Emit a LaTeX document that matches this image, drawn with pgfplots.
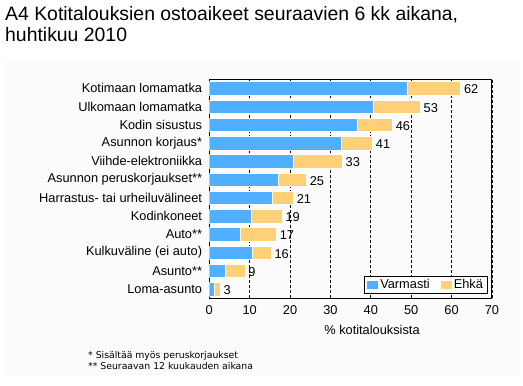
\documentclass[border=0pt]{standalone}
\usepackage{pgfplots}
\pgfplotsset{compat=1.18}
\usepackage{pgfplotstable}
\usepackage{fontspec}
\setmainfont{Liberation Sans}
\newfontfamily\footfont{DejaVu Sans}
\definecolor{cblue}{RGB}{80,175,255}
\definecolor{corange}{RGB}{255,208,120}
\definecolor{panel}{RGB}{251,251,251}

\pgfplotstableread{
y varmasti ehka total label
0 1.2 1.5 2.7 3
1 4.0 4.8 8.8 9
2 10.7 4.6 15.3 16
3 7.7 8.9 16.6 17
4 10.5 7.5 18.0 19
5 15.5 5.3 20.8 21
6 17.1 6.9 24.0 25
7 20.7 12.2 32.9 33
8 32.8 7.6 40.4 41
9 36.6 8.7 45.3 46
10 40.7 11.5 52.2 53
11 49.1 13.1 62.2 62
}\datatable

\begin{document}
\begin{tikzpicture}
\path[use as bounding box, fill=white] (0,0) rectangle (523pt,386pt);
\fill[panel] (5pt,11pt) rectangle (520pt,326pt);
\node[anchor=base west, inner sep=0pt, font=\fontsize{19.4}{22}\selectfont] at (5pt,365.3pt) {A4 Kotitalouksien ostoaikeet seuraavien 6 kk aikana,};
\node[anchor=base west, inner sep=0pt, font=\fontsize{19.4}{22}\selectfont] at (5pt,344.3pt) {huhtikuu 2010};
\begin{axis}[
  at={(209.3pt,87.7pt)}, anchor=south west,
  width=282.7pt, height=219pt, scale only axis,
  xbar stacked, bar width=13.3pt,
  xmin=0, xmax=70, ymin=-0.5, ymax=11.5,
  xtick={0,10,...,70},
  ytick={0,...,11},
  yticklabels={Loma-asunto, Asunto**, Kulkuväline (ei auto), Auto**, Kodinkoneet, Harrastus- tai urheiluvälineet, Asunnon peruskorjaukset**, Viihde-elektroniikka, Asunnon korjaus*, Kodin sisustus, Ulkomaan lomamatka, Kotimaan lomamatka},
  xmajorgrids,
  grid style={black, dash pattern=on 3pt off 2pt, line width=0.8pt},
  major tick length=0pt,
  axis line style={line width=1pt},
  tick label style={font=\fontsize{12.8}{14}\selectfont},
  /pgf/number format/assume math mode=true,
  xticklabel style={yshift=-4pt},
  yticklabel style={xshift=-3.7pt},
  legend style={at={(rel axis cs:1,0)}, anchor=south east, xshift=-4pt, yshift=4.6pt,
    draw=black, line width=1pt, font=\fontsize{12.8}{14}\selectfont,
    inner xsep=2.5pt, inner ysep=1pt,
    /tikz/every even column/.style={column sep=9pt}},
  legend columns=2,
  legend image code/.code={\fill[#1,/tikz/.cd,draw=none] (0pt,-4pt) rectangle (11pt,4pt);},
]
\addplot[fill=cblue, draw=white, line width=0.6pt] table[x=varmasti, y=y] {\datatable};
\addlegendentry{Varmasti}
\addplot[fill=corange, draw=white, line width=0.6pt] table[x=ehka, y=y] {\datatable};
\addlegendentry{Ehkä}
\end{axis}
\begin{axis}[
  at={(209.3pt,87.7pt)}, anchor=south west,
  width=282.7pt, height=219pt, scale only axis,
  xmin=0, xmax=70, ymin=-0.5, ymax=11.5,
  hide axis, clip=false,
]
\addplot[only marks, mark=none,
  nodes near coords, point meta=explicit symbolic,
  every node near coord/.style={anchor=west, yshift=-1pt, font=\fontsize{12.8}{14}\selectfont, black}]
  table[x=total, y=y, meta=label] {\datatable};
\end{axis}
\node[font=\fontsize{12.8}{14}\selectfont] at (372pt,56pt) {\% kotitalouksista};
\node[anchor=base west, inner sep=0pt, font=\footfont\fontsize{9.3}{11}\selectfont] at (88pt,27pt) {* Sisältää myös peruskorjaukset};
\node[anchor=base west, inner sep=0pt, font=\footfont\fontsize{9.3}{11}\selectfont] at (88pt,16.5pt) {** Seuraavan 12 kuukauden aikana};
\end{tikzpicture}
\end{document}
